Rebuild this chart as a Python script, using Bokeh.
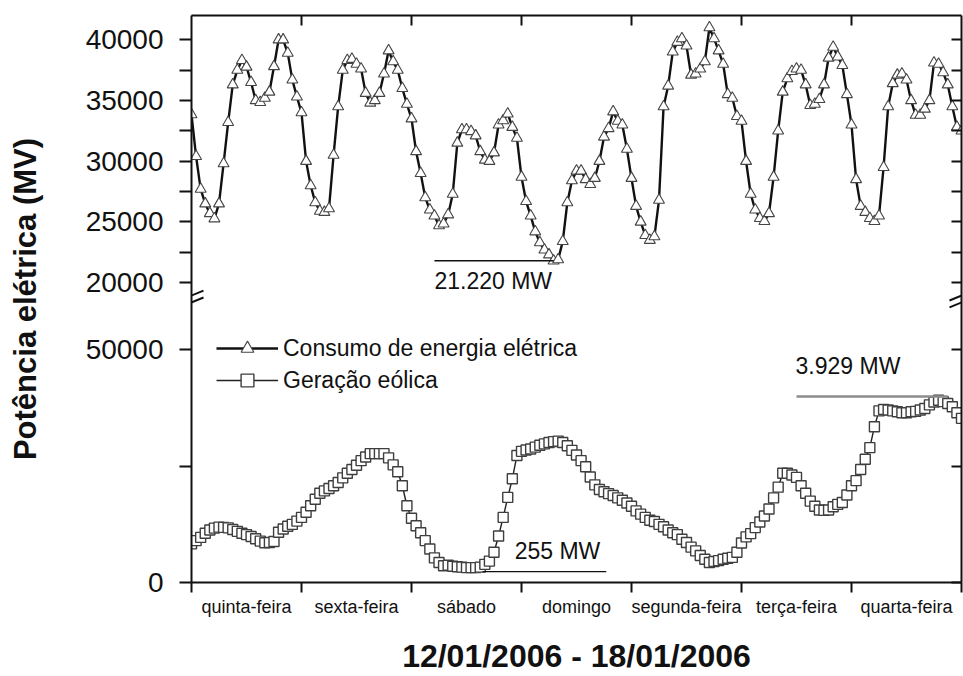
import math
from bokeh.plotting import figure
from bokeh.models import Range1d, LinearAxis, FixedTicker, Label, Legend, LegendItem
from bokeh.embed import file_html
from bokeh.resources import INLINE

# ---------------- data ----------------
horas = list(range(169))
consumo = [33840, 30400, 27700, 26500, 25700, 25270, 26500, 29800, 33200, 36300, 37500, 38300,
           37760, 36500, 35000, 34850, 35200, 35700, 37800, 40000, 40000, 38900, 36700, 35300,
           34000, 30000, 28000, 26600, 25900, 25800, 26100, 30500, 34500, 37500, 38300, 38400,
           38000, 37600, 35600, 34800, 35000, 35600, 37200, 39100, 38200, 37500, 36000, 34700,
           33500, 30800, 29000, 27000, 26000, 25500, 24700, 24850, 25600, 27300, 31500, 32600,
           32600, 32450, 32100, 30800, 30100, 30000, 30700, 33000, 33340, 33900, 32800, 31900,
           28700, 26700, 25500, 24200, 23300, 22700, 22300, 21800, 21900, 23400, 26600, 28400,
           29200, 29200, 28500, 28100, 28600, 30000, 32000, 32700, 34080, 33300, 33000, 31000,
           28600, 26300, 25000, 23900, 23500, 23800, 26800, 34500, 36200, 39000, 39800, 40100,
           39500, 37100, 37200, 37600, 38200, 41000, 40100, 39100, 38000, 35500, 35200, 33700,
           33300, 30000, 27300, 26000, 25300, 25050, 25700, 28700, 32500, 35700, 36800, 37400,
           37600, 37500, 36300, 34600, 34700, 35100, 36300, 38500, 39400, 38600, 37900, 35500,
           33000, 28500, 26300, 25800, 25300, 25050, 25500, 29500, 34500, 36400, 37100, 37200,
           36700, 35000, 33800, 33800, 34300, 35000, 38100, 38000, 37300, 36300, 34500, 32800,
           32500]
eolica = [8300, 9000, 9700, 10600, 11300, 11700, 11900, 11850, 11750, 11400, 11000, 10600,
          10300, 9900, 9400, 8900, 8550, 8600, 8800, 10800, 11500, 12100, 12500, 13200,
          14000, 15100, 16500, 17900, 19200, 19700, 20200, 20800, 21500, 22500, 23500, 24300,
          25200, 26200, 27000, 27700, 27700, 27700, 27700, 26800, 25300, 23800, 20800, 16500,
          13800, 12200, 10700, 9000, 7200, 5300, 4300, 3600, 3700, 3500, 3400, 3300,
          3200, 3200, 3200, 3300, 3900, 4600, 6500, 10000, 14000, 18300, 22300, 27300,
          28200, 28500, 28700, 29100, 29500, 29800, 30100, 30300, 30400, 30100, 29400, 28400,
          27400, 26200, 24900, 22700, 21000, 20000, 19500, 19100, 18700, 18200, 17700, 17100,
          16400, 15400, 14700, 14000, 13400, 13100, 12500, 12000, 11300, 10700, 10300, 9300,
          8600, 7600, 6800, 5800, 5000, 4300, 4500, 4700, 5000, 5200, 5400, 6500,
          8500, 9800, 10500, 11800, 13000, 14300, 15800, 18200, 20500, 23500, 23500, 23100,
          22600, 20800, 19200, 17500, 16400, 15600, 15500, 15600, 16300, 16800, 17200, 18800,
          20800, 21900, 24300, 26500, 29000, 33500, 36900, 37200, 37100, 36900, 36700, 36500,
          36500, 36700, 36800, 37100, 37400, 38200, 38800, 39200, 38900, 38500, 37800, 36500,
          35300]
dias = ["quinta-feira", "sexta-feira", "sábado", "domingo",
        "segunda-feira", "terça-feira", "quarta-feira"]
limites_dias = [0, 24, 48, 72, 96, 120, 144, 168]
ticks_consumo = [20000, 22500, 25000, 27500, 30000, 32500, 35000, 37500, 40000]
ticks_eolica = [0, 25000, 50000]
rotulos_consumo = [20000, 25000, 30000, 35000, 40000]
rotulos_eolica = [0, 50000]

anot_texto = ["21.220 MW", "255 MW", "3.929 MW"]
anot_nivel = [21800, 2340, 40000]
anot_x0 = [53, 63.5, 132]
anot_x1 = [79, 90.5, 165]
anot_xtexto = [53, 70.5, 131.8]

FONT = "Liberation Sans"
INK = "#111111"
AX = "#111111"

# ---------------- figure ----------------
CONS_RANGE = (-4684, 41996)
WIND_RANGE = (0, 121915)

p = figure(width=963, height=676, output_backend="svg", toolbar_location=None,
           x_range=Range1d(0, 168), y_range=Range1d(*WIND_RANGE),
           min_border_left=190, min_border_right=2, min_border_top=15, min_border_bottom=88,
           title_location="left")
p.extra_y_ranges = {"cons": Range1d(*CONS_RANGE)}
p.outline_line_color = None
p.grid.visible = False
p.background_fill_color = "white"
p.border_fill_color = "white"

# y title (left side, outermost)
p.title.text = "Potência elétrica (MV)"
p.title.align = "center"
p.title.vertical_align = "top"
p.title.offset = 10
p.title.standoff = 15
p.title.text_font = FONT
p.title.text_font_size = "31px"
p.title.text_font_style = "bold"
p.title.text_color = INK


def cons_to_wind(v):
    c0, c1 = CONS_RANGE
    w0, w1 = WIND_RANGE
    return (v - c0) / (c1 - c0) * (w1 - w0) + w0


# y tick positions (in units of the main range)
ytick_pos = [int(round(cons_to_wind(v))) for v in ticks_consumo] + list(ticks_eolica)
overrides = {}
for v in ticks_consumo:
    overrides[int(round(cons_to_wind(v)))] = str(v) if v in rotulos_consumo else ""
for v in ticks_eolica:
    overrides[v] = str(v) if v in rotulos_eolica else ""

# left axis
yl = p.yaxis[0]
yl.ticker = FixedTicker(ticks=ytick_pos)
yl.major_label_overrides = overrides
yl.major_tick_out = 12
yl.major_tick_in = 0
yl.minor_tick_line_color = None
yl.major_label_standoff = 16
yl.major_label_text_font = FONT
yl.major_label_text_font_size = "28px"
yl.major_label_text_color = INK
yl.axis_line_width = 2
yl.axis_line_color = AX
yl.major_tick_line_width = 2
yl.major_tick_line_color = AX
# blank spacer label: widens the axis panel so the title sits further out
yl.axis_label = " "
yl.axis_label_text_font_size = "12px"
yl.axis_label_standoff = 13

# right axis
yr = LinearAxis(ticker=FixedTicker(ticks=ytick_pos), major_tick_in=10, major_tick_out=0,
                major_label_text_font_size="0px", major_label_standoff=0,
                axis_line_width=2, axis_line_color=AX, major_tick_line_width=2,
                major_tick_line_color=AX, minor_tick_line_color=None)
yr.major_label_overrides = {k: "" for k in overrides}
p.add_layout(yr, "right")

# bottom axis: day labels centred, day boundary ticks as minor ticks
centros = [(a + b) / 2 for a, b in zip(limites_dias[:-1], limites_dias[1:])]
xb = p.xaxis[0]
xb.ticker = FixedTicker(ticks=centros, minor_ticks=limites_dias)
xb.major_label_overrides = {c: d for c, d in zip(centros, dias)}
xb.major_tick_line_color = None
xb.major_tick_out = 10
xb.major_tick_in = 0
xb.minor_tick_out = 10
xb.minor_tick_in = 0
xb.minor_tick_line_width = 2
xb.minor_tick_line_color = AX
xb.major_label_standoff = 4
xb.major_label_text_font = FONT
xb.major_label_text_font_size = "18px"
xb.major_label_text_color = INK
xb.axis_line_width = 2
xb.axis_line_color = AX
xb.axis_label = "12/01/2006 - 18/01/2006"
xb.axis_label_standoff = 18
xb.axis_label_text_font = FONT
xb.axis_label_text_font_size = "32px"
xb.axis_label_text_font_style = "bold"
xb.axis_label_text_color = INK

# top axis: day boundaries, inward ticks
xt = LinearAxis(ticker=FixedTicker(ticks=limites_dias[1:-1]), major_tick_in=10, major_tick_out=0,
                major_label_text_font_size="0px", major_label_standoff=0,
                axis_line_width=2, axis_line_color=AX, major_tick_line_width=2,
                major_tick_line_color=AX, minor_tick_line_color=None)
xt.major_label_overrides = {k: "" for k in limites_dias[1:-1]}
p.add_layout(xt, "above")

# ---------------- series ----------------
l2 = p.line(horas, eolica, line_color="#222222", line_width=1.4)
s2 = p.scatter(horas, eolica, marker="square", size=10, fill_color="white",
               line_color="#3e3e3e", line_width=1.4)
l1 = p.line(horas, consumo, y_range_name="cons", line_color=INK, line_width=2.4)
s1 = p.scatter(horas, consumo, y_range_name="cons", marker="triangle", size=11,
               fill_color="white", line_color="#444444", line_width=1.1)

# annotation lines
p.line([anot_x0[0], anot_x1[0]], [anot_nivel[0], anot_nivel[0]], y_range_name="cons",
       line_color=INK, line_width=1.5)
p.line([anot_x0[1], anot_x1[1]], [anot_nivel[1], anot_nivel[1]],
       line_color=INK, line_width=1.3)
p.line([anot_x0[2], anot_x1[2]], [anot_nivel[2], anot_nivel[2]],
       line_color="#8c8c8c", line_width=2.5)

p.add_layout(Label(x=anot_xtexto[0], y=anot_nivel[0], y_range_name="cons", y_offset=-20,
                   text=anot_texto[0], text_font=FONT, text_font_size="23px",
                   text_align="left", text_baseline="middle", text_color=INK))
p.add_layout(Label(x=anot_xtexto[1], y=anot_nivel[1], y_offset=21,
                   text=anot_texto[1], text_font=FONT, text_font_size="23px",
                   text_align="left", text_baseline="middle", text_color=INK))
p.add_layout(Label(x=anot_xtexto[2], y=anot_nivel[2], y_offset=30,
                   text=anot_texto[2], text_font=FONT, text_font_size="23px",
                   text_align="left", text_baseline="middle", text_color=INK))

# legend (location = bottom-left corner, px from frame bottom-left)
legend = Legend(items=[LegendItem(label="Consumo de energia elétrica", renderers=[l1, s1]),
                       LegendItem(label="Geração eólica", renderers=[l2, s2])],
                location=(25, 186), orientation="vertical",
                border_line_color=None, background_fill_alpha=0,
                padding=0, margin=0, spacing=0, glyph_width=62, glyph_height=32,
                label_height=32, label_standoff=5,
                label_text_font=FONT, label_text_font_size="23px",
                label_text_color=INK)
p.add_layout(legend)

# axis break marks (two short parallel strokes across each vertical axis)
ymid = (WIND_RANGE[0] + WIND_RANGE[1]) / 2
hx = 168 / 771.0          # hours per pixel
wy = (WIND_RANGE[1] - WIND_RANGE[0]) / 573.0   # wind units per pixel
bx0, bx1, by0, by1 = [], [], [], []
for xe in (0, 168):
    for dy in (-3.5, 3.5):
        bx0.append(xe - 12 * hx)
        bx1.append(xe + 12 * hx)
        by0.append(ymid + (dy - 5) * wy)
        by1.append(ymid + (dy + 5) * wy)
p.segment(bx0, by0, bx1, by1, line_color=INK, line_width=2)

open("out.html", "w").write(file_html(p, INLINE))
